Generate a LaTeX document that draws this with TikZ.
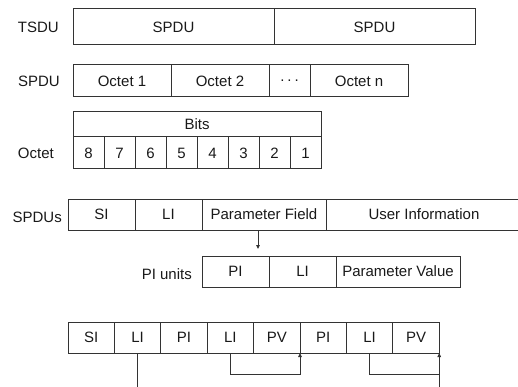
\documentclass[tikz,border=0pt]{standalone}
\usepackage{fontspec}
\setmainfont{Liberation Sans}
\usetikzlibrary{positioning,arrows.meta}

\tikzset{
  cell/.style={draw=black!80, line width=1pt, inner sep=0pt, outer sep=0pt,
    minimum height=31pt, text=black!90, font=\fontsize{15}{18}\selectfont},
  tag/.style={inner sep=0pt, text=black!90, font=\fontsize{15}{18}\selectfont},
  link/.style={draw=black!80, line width=1pt},
  tip/.style={-{Triangle[length=4pt,width=3.5pt]}}
}

\begin{document}
\begin{tikzpicture}[x=1pt,y=-1pt]
  \useasboundingbox (0,0) rectangle (518,387);
  % TSDU row
  \node[cell, minimum width=201pt, minimum height=36pt, anchor=north west] (ts1) at (73,9) {SPDU};
  \node[cell, minimum width=201pt, minimum height=36pt, right=0pt of ts1] (ts2) {SPDU};
  \node[tag, left=14pt of ts1] (tsdu) {TSDU};
  % SPDU row
  \node[cell, minimum width=98pt, minimum height=32pt, anchor=north west] (oc1) at (73,65) {Octet 1};
  \node[cell, minimum width=98pt, minimum height=32pt, right=0pt of oc1] (oc2) {Octet 2};
  \node[cell, minimum width=41pt, minimum height=32pt, right=0pt of oc2] (ocd) {.\hspace{3pt}.\hspace{3pt}.};
  \node[cell, minimum width=98pt, minimum height=32pt, right=0pt of ocd] (ocn) {Octet n};
  \node[tag, left=13pt of oc1] (spdu) {SPDU};
  % Octet row
  \node[cell, minimum width=248pt, minimum height=25pt, anchor=north west] (bits) at (73,112) {Bits};
  \node[cell, minimum width=31pt, minimum height=32pt, anchor=north west] (b8) at (73,137) {8};
  \node[cell, minimum width=31pt, minimum height=32pt, right=0pt of b8] (b7) {7};
  \node[cell, minimum width=31pt, minimum height=32pt, right=0pt of b7] (b6) {6};
  \node[cell, minimum width=31pt, minimum height=32pt, right=0pt of b6] (b5) {5};
  \node[cell, minimum width=31pt, minimum height=32pt, right=0pt of b5] (b4) {4};
  \node[cell, minimum width=31pt, minimum height=32pt, right=0pt of b4] (b3) {3};
  \node[cell, minimum width=31pt, minimum height=32pt, right=0pt of b3] (b2) {2};
  \node[cell, minimum width=31pt, minimum height=32pt, right=0pt of b2] (b1) {1};
  \node[tag, left=19pt of b8] (octet) {Octet};
  % SPDUs row
  \node[cell, minimum width=67pt, anchor=north west] (si) at (68,199) {SI};
  \node[cell, minimum width=67pt, right=0pt of si] (li) {LI};
  \node[cell, minimum width=124pt, right=0pt of li] (pf) {Parameter Field};
  \node[cell, minimum width=196pt, right=0pt of pf] (ui) {User Information};
  \node[tag, left=6pt of si, yshift=-3pt] (spdus) {SPDUs};
  % PI units row
  \node[cell, minimum width=67pt, anchor=north west] (pu1) at (202,256) {PI};
  \node[cell, minimum width=67pt, right=0pt of pu1] (pu2) {LI};
  \node[cell, minimum width=124pt, right=0pt of pu2] (pu3) {Parameter Value};
  \node[tag, left=10pt of pu1, yshift=-3pt] (piunits) {PI units};
  % encoded row
  \node[cell, minimum width=46.4pt, anchor=north west] (p1) at (68,322) {SI};
  \node[cell, minimum width=46.4pt, right=0pt of p1] (p2) {LI};
  \node[cell, minimum width=46.4pt, right=0pt of p2] (p3) {PI};
  \node[cell, minimum width=46.4pt, right=0pt of p3] (p4) {LI};
  \node[cell, minimum width=46.4pt, right=0pt of p4] (p5) {PV};
  \node[cell, minimum width=46.4pt, right=0pt of p5] (p6) {PI};
  \node[cell, minimum width=46.4pt, right=0pt of p6] (p7) {LI};
  \node[cell, minimum width=46.4pt, right=0pt of p7] (p8) {PV};
  % connectors
  \coordinate (rail) at (0,374);
  \coordinate (floor) at (0,387);
  \draw[link, tip] ([xshift=-6pt]pf.south) -- ([xshift=-6pt,yshift=7pt]pf.south |- pu1.north);
  \draw[link] (p2.south) -- (p2.south |- floor);
  \draw[link, tip] (p4.south) -- (p4.south |- rail) -- (p5.south east |- rail) -- (p5.south east);
  \draw[link, tip] (p7.south) -- (p7.south |- rail) -- (p8.south east |- rail) -- (p8.south east);
  \draw[link] (p8.south east |- floor) -- (p8.south east |- rail);
\end{tikzpicture}
\end{document}
